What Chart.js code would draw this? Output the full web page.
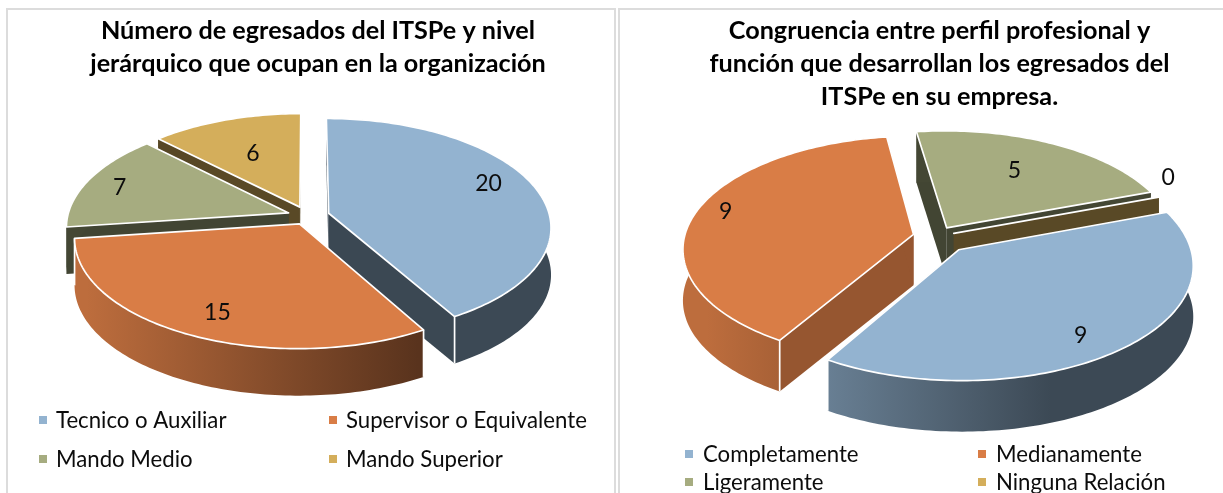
<!DOCTYPE html>
<html>
<head>
<meta charset="utf-8">
<script src="https://cdn.jsdelivr.net/npm/chart.js@4"></script>
<style>
html,body{margin:0;padding:0;background:#fff;width:1223px;height:493px;overflow:hidden}
.panel{position:absolute;top:8px;height:490px;box-sizing:border-box;border:2px solid #dcdcdc;background:#fff}
canvas{position:absolute;top:0}
</style>
</head>
<body>
<div class="panel" style="left:6px;width:610px"></div>
<div class="panel" style="left:618px;width:620px"></div>
<canvas id="a" width="612" height="493" style="left:0"></canvas>
<canvas id="b" width="611" height="493" style="left:612px"></canvas>
<script>
const titleA = ["Número de egresados del ITSPe y nivel", "jerárquico que ocupan en la organización"];
const categoriesA = ["Tecnico o Auxiliar", "Supervisor o Equivalente", "Mando Medio", "Mando Superior"];
const valuesA = [20, 15, 7, 6];

const titleB = ["Congruencia entre perfil profesional y", "función que desarrollan los egresados del", "ITSPe en su empresa."];
const categoriesB = ["Completamente", "Medianamente", "Ligeramente", "Ninguna Relación"];
const valuesB = [9, 9, 5, 0];

const sliceColors = ["#93B3D0", "#D97D46", "#A6AC80", "#D4AE5B"];
const cutShade = [0.40, 0.69, 0.40, 0.42];
const TEXT = "#0c0c0c";
const SQUASH = 0.485, PERSPECTIVE = 0.124;

function shade(hex, f) {
  const n = parseInt(hex.slice(1), 16);
  return "rgb(" + [(n >> 16) & 255, (n >> 8) & 255, n & 255].map(c => Math.round(c * f)).join(",") + ")";
}

function poly(ctx, pts) {
  ctx.beginPath();
  pts.forEach((p, i) => i ? ctx.lineTo(p[0], p[1]) : ctx.moveTo(p[0], p[1]));
}

const pie3d = {
  id: "pie3d",
  beforeDatasetsDraw(chart, args, opts) {
    const ctx = chart.ctx;
    const arcs = chart.getDatasetMeta(0).data;
    const R = arcs[0].outerRadius;
    const cx = arcs[0].x + opts.shiftX, cy = arcs[0].y;
    const project = (u, v) => {
      const w = 1 - PERSPECTIVE * v;
      return [cx + R * u / w, cy + R * SQUASH * v / w];
    };
    const down = p => [p[0], p[1] + opts.depth];
    const slices = arcs.map((el, i) => {
      const mid = (el.startAngle + el.endAngle) / 2;
      return { el, i, mid, ou: el.options.offset / R * Math.cos(mid), ov: el.options.offset / R * Math.sin(mid) };
    }).sort((p, q) => Math.sin(p.mid) - Math.sin(q.mid));

    const xmin = cx - R, xmax = cx + R;
    slices.forEach(s => {
      const { el, i, mid, ou, ov } = s;
      const color = el.options.backgroundColor;
      const rimPts = [];
      const span = el.endAngle - el.startAngle;
      const steps = Math.max(1, Math.ceil(span / 0.02));
      for (let k = 0; k <= steps; k++) {
        const a = el.startAngle + span * k / steps;
        rimPts.push(project(ou + Math.cos(a), ov + Math.sin(a)));
      }
      const apex = project(ou, ov);
      const first = rimPts[0], last = rimPts[rimPts.length - 1];
      ctx.save();
      ctx.lineJoin = "round";
      // flat cut faces
      ctx.fillStyle = shade(color, cutShade[i]);
      [first, last].forEach(end => {
        poly(ctx, [apex, end, down(end), down(apex)]);
        ctx.closePath();
        ctx.fill();
      });
      // curved rim: lit only on slices reaching the front of the pie
      if (span > 0) {
        if (Math.sin(mid) < -0.25) {
          ctx.fillStyle = shade(color, 0.41);
        } else {
          const g = ctx.createLinearGradient(xmin, 0, xmax, 0);
          g.addColorStop(0, shade(color, 0.87));
          g.addColorStop(0.75, shade(color, 0.41));
          g.addColorStop(1, shade(color, 0.41));
          ctx.fillStyle = g;
        }
        poly(ctx, rimPts.concat(rimPts.slice().reverse().map(down)));
        ctx.closePath();
        ctx.fill();
      }
      // edges and top face
      ctx.strokeStyle = el.options.borderColor;
      ctx.lineWidth = el.options.borderWidth;
      [first, last].forEach(end => {
        if (end[1] > cy + 20) {
          poly(ctx, [end, down(end)]);
          ctx.stroke();
        }
      });
      poly(ctx, [apex].concat(rimPts));
      ctx.closePath();
      ctx.fillStyle = color;
      ctx.fill();
      ctx.stroke();
      ctx.restore();
    });

    // value labels
    ctx.save();
    ctx.font = opts.labelFont;
    ctx.fillStyle = TEXT;
    ctx.textAlign = "center";
    ctx.textBaseline = "middle";
    slices.forEach(s => {
      const a = s.mid + opts.labelShift[s.i] * Math.PI / 180;
      const r = opts.labelRadius[s.i];
      const p = project(r * Math.cos(a), r * Math.sin(a));
      ctx.fillText(String(chart.data.datasets[0].data[s.i]), p[0], p[1] + 1);
    });
    ctx.restore();

    // two-column legend
    ctx.save();
    ctx.font = opts.legendFont;
    ctx.textBaseline = "middle";
    ctx.textAlign = "left";
    chart.data.labels.forEach((label, i) => {
      const col = i % 2, row = Math.floor(i / 2);
      const x = opts.legendX[col], y = opts.legendY[row];
      ctx.fillStyle = sliceColors[i];
      ctx.fillRect(x, y - 4, 8, 8);
      ctx.fillStyle = TEXT;
      ctx.fillText(label, x + opts.legendGap, y + 1);
    });
    ctx.restore();
    return false;
  }
};

function build(id, title, labels, values, rotation, offsets, radius, pad, plug) {
  return new Chart(document.getElementById(id), {
    type: "pie",
    data: {
      labels: labels,
      datasets: [{
        data: values,
        backgroundColor: sliceColors,
        borderColor: "#ffffff",
        borderWidth: 1.7,
        offset: offsets,
        rotation: rotation,
        radius: radius
      }]
    },
    options: {
      responsive: false,
      animation: false,
      layout: { padding: pad },
      plugins: {
        legend: { display: false },
        tooltip: { enabled: false },
        title: {
          display: true,
          text: title,
          color: "#000000",
          font: { family: "Lato", size: 25.2, weight: "bold", lineHeight: 33 / 25.2 },
          padding: { top: 14, bottom: 0 }
        },
        pie3d: plug
      }
    },
    plugins: [pie3d]
  });
}

build("a", titleA, categoriesA, valuesA, 0, [22, 18, 20, 20], 221,
  { left: 24, right: 0, top: 0, bottom: 141 },
  { shiftX: -10.5, depth: 47, labelFont: "23px Lato", legendFont: "22.2px Lato",
    labelRadius: [0.91, 0.886, 0.923, 0.696], labelShift: [-5.6, -1.8, -1, 0],
    legendX: [39, 329], legendY: [420, 459], legendGap: 17 });

build("b", titleB, categoriesB, valuesB, 70, [35, 23, 21, 19], 229,
  { left: 44, right: 0, top: 0, bottom: 133 },
  { shiftX: -3.5, depth: 51, labelFont: "23px Lato", legendFont: "22.2px Lato",
    labelRadius: [0.981, 0.976, 0.75, 1.23], labelShift: [4.1, 3, -1.3, -8],
    legendX: [73, 366], legendY: [454, 482], legendGap: 18 });
</script>
</body>
</html>
